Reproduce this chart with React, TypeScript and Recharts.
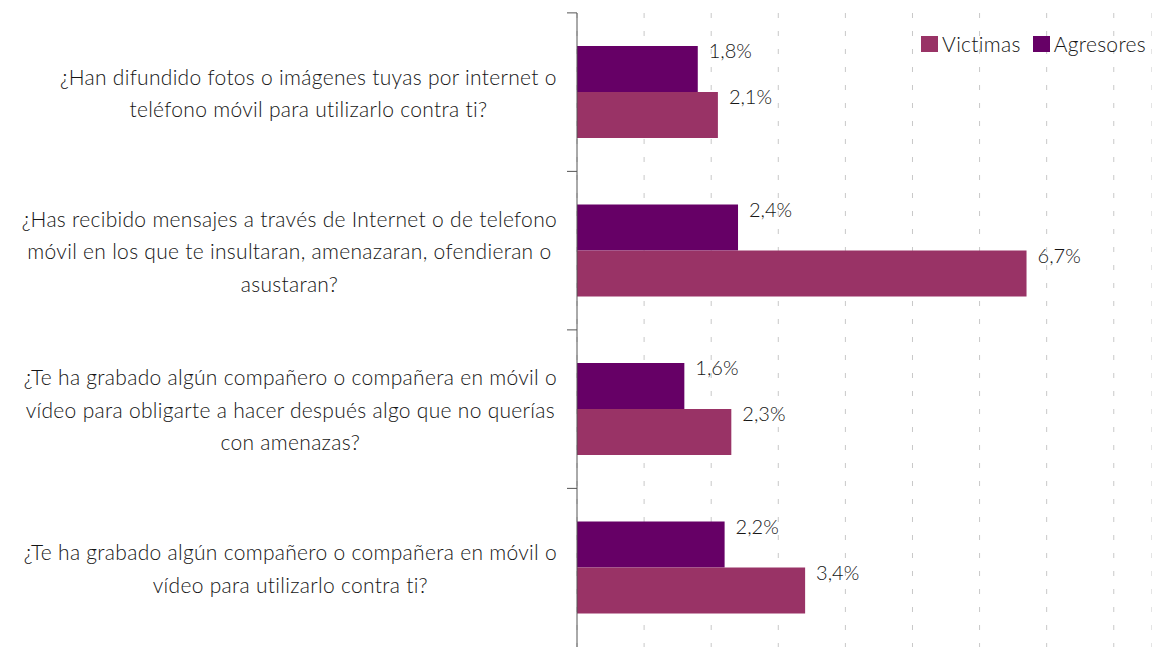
import { BarChart, Bar, XAxis, YAxis, CartesianGrid, Legend, LabelList } from 'recharts'

const categories = [
  '¿Han difundido fotos o imágenes tuyas por internet o\nteléfono móvil para utilizarlo contra ti?',
  '¿Has recibido mensajes a través de Internet o de telefono\nmóvil en los que te insultaran, amenazaran, ofendieran o\nasustaran?',
  '¿Te ha grabado algún compañero o compañera en móvil o\nvídeo para obligarte a hacer después algo que no querías\ncon amenazas?',
  '¿Te ha grabado algún compañero o compañera en móvil o\nvídeo para utilizarlo contra ti?',
]
const agresores = [1.8, 2.4, 1.6, 2.2]
const victimas = [2.1, 6.7, 2.3, 3.4]
const xTicks = [0, 1, 2, 3, 4, 5, 6, 7, 8]

const data = categories.map((name, i) => ({ name, agresores: agresores[i], victimas: victimas[i] }))

const FONT = 'Lato, "Open Sans", sans-serif'
const W = 1152
const H = 648
const TOP = 13
const band = (H - TOP) / categories.length
const TEXT = '#151515'
const CAT_SIZE = 21
const SPACING = 0.3

let ctx: any = null
const measure = (s: string) => {
  if (!ctx) ctx = document.createElement('canvas').getContext('2d')
  ctx.font = `300 ${CAT_SIZE}px ${FONT}`
  ctx.letterSpacing = `${SPACING}px`
  return ctx.measureText(s).width
}

const CatTick = ({ x, y, payload }: any) => {
  const lines = String(payload.value).split('\n')
  const w = Math.max(...lines.map(measure))
  const cx = x - 20 - w / 2
  const lh = 32.5
  const y0 = y - ((lines.length - 1) * lh) / 2
  return (
    <g>
      <line x1={x - 10} x2={x} y1={y - band / 2} y2={y - band / 2} stroke="#555" />
      <text textAnchor="middle" fill={TEXT} fontSize={CAT_SIZE} fontWeight={300} fontFamily={FONT} letterSpacing={SPACING}>
        {lines.map((l, i) => (
          <tspan key={i} x={cx} y={y0 + i * lh} dominantBaseline="central">{l}</tspan>
        ))}
      </text>
    </g>
  )
}

const NoTick = () => <g />

const ValueLabel = ({ x, y, width, value }: any) => (
  <text x={x + width + 11} y={y + 4} fill={TEXT} fontSize={20} fontWeight={300} fontFamily={FONT} dominantBaseline="central">
    {String(value).replace('.', ',')}%
  </text>
)

const LegendRow = ({ payload }: any) => (
  <div style={{ display: 'flex', alignItems: 'center', fontFamily: FONT, fontSize: 21, fontWeight: 300, color: TEXT, lineHeight: '24px', letterSpacing: SPACING }}>
    {(payload || []).slice().reverse().map((p: any) => (
      <div key={p.value} style={{ display: 'flex', alignItems: 'center', marginLeft: 12 }}>
        <span style={{ width: 17, height: 16, background: p.color, marginRight: 4, display: 'inline-block' }} />
        <span>{p.value}</span>
      </div>
    ))}
  </div>
)

export default function App() {
  return (
    <div style={{ position: 'absolute', left: 0, top: 0, width: W, height: H, overflow: 'hidden', background: '#fff' }}>
      <BarChart width={W} height={H} data={data} layout="vertical" margin={{ top: TOP, right: 0, bottom: 0, left: 0 }}
        barCategoryGap={33} barGap={0}>
        <CartesianGrid horizontal={false} stroke="#c8c8c8" strokeDasharray="5 13" />
        <XAxis type="number" domain={[0, 8.57]} ticks={xTicks} allowDataOverflow height={1} tick={<NoTick />} axisLine={false} tickLine={false} />
        <YAxis type="category" dataKey="name" width={577} tick={<CatTick />} tickLine={false} tickSize={0} tickMargin={0}
          axisLine={{ stroke: '#555' }} interval={0} />
        <Legend layout="vertical" align="center" verticalAlign="middle" content={<LegendRow />}
          wrapperStyle={{ top: 32, right: 6, left: 'auto', width: 'auto', height: 'auto' }} />
        <Bar dataKey="agresores" name="Agresores" fill="#660066" isAnimationActive={false}>
          <LabelList dataKey="agresores" content={<ValueLabel />} />
        </Bar>
        <Bar dataKey="victimas" name="Victimas" fill="#993366" isAnimationActive={false}>
          <LabelList dataKey="victimas" content={<ValueLabel />} />
        </Bar>
      </BarChart>
    </div>
  )
}
